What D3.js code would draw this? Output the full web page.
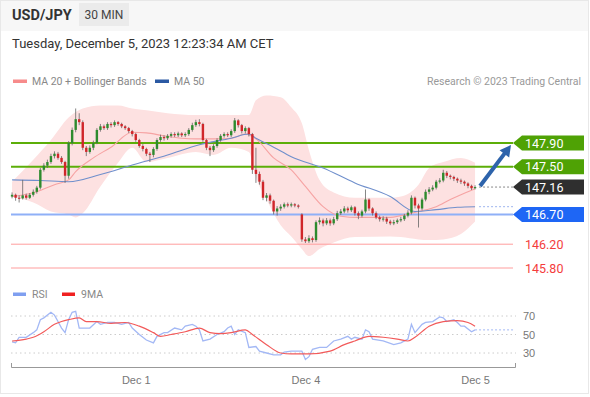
<!DOCTYPE html>
<html>
<head>
<meta charset="utf-8">
<script src="https://cdn.jsdelivr.net/npm/d3@7"></script>
<style>
  body { margin: 0; background: #fff; }
  svg { display: block; font-family: Roboto, "Liberation Sans", Arial, sans-serif; }
</style>
</head>
<body>
<svg id="chart" width="590" height="397"></svg>
<script>
// Section for Data

// 30 minute candles, index 0 = first candle on the left
var candleOpen = [
  147.00,147.03,146.98,146.97,147.02,146.98,147.03,147.08,147.15,147.45,
  147.52,147.58,147.68,147.72,147.65,147.58,147.35,147.90,148.12,148.30,
  148.25,147.82,147.75,147.82,147.90,148.12,148.18,148.15,148.22,148.20,
  148.25,148.22,148.18,148.15,148.10,148.05,147.95,147.85,147.80,147.72,
  147.70,147.80,147.95,148.00,147.98,148.02,148.05,148.03,148.06,148.03,
  148.05,148.12,148.20,148.25,148.22,147.95,147.82,147.78,147.85,147.95,
  148.02,148.05,148.03,148.10,148.28,148.20,148.10,148.15,148.05,147.45,
  147.38,147.25,146.98,147.02,146.93,146.75,146.80,146.83,146.87,146.85,
  146.87,146.85,146.70,146.28,146.25,146.30,146.27,146.57,146.60,146.55,
  146.60,146.55,146.62,146.72,146.75,146.80,146.77,146.82,146.72,146.68,
  146.75,146.95,146.80,146.72,146.65,146.62,146.63,146.58,146.55,146.57,
  146.60,146.62,146.68,146.73,146.98,146.85,146.80,146.95,147.08,147.12,
  147.15,147.25,147.27,147.40,147.35,147.33,147.30,147.27,147.25,147.22,
  147.18,147.14];
var candleHigh = [
  147.07,147.05,147.02,147.28,147.05,147.06,147.12,147.18,147.48,147.56,
  147.62,147.72,147.76,147.75,147.68,147.60,147.93,148.16,148.48,148.40,
  148.28,147.85,147.86,147.94,148.15,148.22,148.21,148.25,148.25,148.28,
  148.27,148.24,148.20,148.17,148.12,148.07,147.97,147.88,147.82,147.75,
  147.83,147.98,148.04,148.03,148.05,148.08,148.08,148.09,148.08,148.08,
  148.15,148.24,148.29,148.30,148.24,147.97,147.85,147.88,147.98,148.05,
  148.08,148.08,148.13,148.32,148.30,148.22,148.18,148.17,148.07,147.82,
  147.42,147.28,147.06,147.05,146.95,146.84,146.87,146.90,146.90,146.90,
  146.89,146.87,146.72,146.32,146.35,146.33,146.60,146.65,146.63,146.64,
  146.63,146.66,146.76,146.79,146.84,146.83,146.85,146.84,146.75,146.78,
  147.12,146.97,146.82,146.75,146.68,146.67,146.66,146.61,146.61,146.63,
  146.66,146.71,146.77,147.02,147.00,146.88,146.98,147.12,147.16,147.19,
  147.28,147.31,147.45,147.43,147.37,147.35,147.32,147.30,147.27,147.24,
  147.20,147.19];
var candleLow = [
  146.97,146.93,146.90,146.95,146.95,146.96,147.00,147.05,147.12,147.42,
  147.48,147.55,147.64,147.62,147.55,147.23,147.30,147.86,148.08,148.20,
  147.78,147.68,147.72,147.78,147.88,148.09,148.12,148.12,148.16,148.17,
  148.19,148.15,148.12,148.07,148.01,147.92,147.82,147.76,147.68,147.58,
  147.66,147.77,147.92,147.94,147.95,147.99,148.00,148.00,148.00,148.00,
  148.02,148.09,148.17,148.18,147.92,147.78,147.68,147.75,147.82,147.92,
  147.99,148.00,148.00,148.07,148.16,148.06,148.06,148.01,147.38,147.23,
  147.20,146.94,146.92,146.88,146.70,146.68,146.76,146.80,146.82,146.82,
  146.82,146.80,146.24,146.22,146.22,146.23,146.24,146.53,146.50,146.52,
  146.51,146.52,146.59,146.69,146.72,146.73,146.74,146.68,146.62,146.65,
  146.72,146.76,146.68,146.62,146.58,146.58,146.54,146.52,146.52,146.54,
  146.57,146.59,146.65,146.70,146.80,146.48,146.77,146.92,147.04,147.09,
  147.12,147.22,147.24,147.31,147.29,147.26,147.23,147.21,147.18,147.14,
  147.11,147.12];
var candleClose = [
  147.03,146.98,146.97,147.02,146.98,147.03,147.08,147.15,147.45,147.52,
  147.58,147.68,147.72,147.65,147.58,147.35,147.90,148.12,148.30,148.25,
  147.82,147.75,147.82,147.90,148.12,148.18,148.15,148.22,148.20,148.25,
  148.22,148.18,148.15,148.10,148.05,147.95,147.85,147.80,147.72,147.70,
  147.80,147.95,148.00,147.98,148.02,148.05,148.03,148.06,148.03,148.05,
  148.12,148.20,148.25,148.22,147.95,147.82,147.78,147.85,147.95,148.02,
  148.05,148.03,148.10,148.28,148.20,148.10,148.15,148.05,147.45,147.38,
  147.25,146.98,147.02,146.93,146.75,146.80,146.83,146.87,146.85,146.87,
  146.85,146.83,146.28,146.25,146.30,146.27,146.57,146.60,146.55,146.60,
  146.55,146.62,146.72,146.75,146.80,146.77,146.82,146.72,146.68,146.75,
  146.95,146.80,146.72,146.65,146.62,146.63,146.58,146.55,146.57,146.60,
  146.62,146.68,146.73,146.98,146.85,146.80,146.95,147.08,147.12,147.15,
  147.25,147.27,147.40,147.35,147.33,147.30,147.27,147.25,147.22,147.18,
  147.14,147.16];

// moving averages and bands, read at some candle indexes
var ma20Idx = [0, 7, 12, 16, 18, 23, 28, 34, 38, 43, 48, 52, 57, 62, 66, 69, 74, 79, 83, 88, 93, 98, 107, 110, 115, 120, 124, 129, 131];
var ma20Val = [147.00, 147.08, 147.20, 147.28, 147.42, 147.65, 147.83, 148.08, 148.07, 148.02, 147.98, 147.97, 147.97, 147.98, 148.05, 147.97, 147.65, 147.45, 147.17, 146.83, 146.67, 146.65, 146.65, 146.68, 146.75, 146.83, 146.95, 147.08, 147.13];
var ma50Idx = [0, 8, 16, 25, 34, 44, 53, 62, 67, 69, 74, 79, 88, 97, 107, 114, 120, 126, 131];
var ma50Val = [147.28, 147.27, 147.25, 147.37, 147.53, 147.70, 147.87, 147.98, 148.05, 147.98, 147.83, 147.67, 147.48, 147.23, 147.00, 146.75, 146.78, 146.82, 146.83];
var bandIdx = [0, 6, 11, 16, 18, 20, 25, 30, 34, 38, 44, 52, 57, 62, 67, 69, 72, 76, 79, 82, 84, 87, 91, 97, 107, 110, 115, 118, 122, 127, 131];
var bandUpper = [147.25, 147.62, 147.95, 148.33, 148.42, 148.48, 148.53, 148.53, 148.48, 148.45, 148.40, 148.37, 148.37, 148.37, 148.37, 148.62, 148.70, 148.67, 148.50, 148.23, 147.78, 147.28, 147.07, 146.98, 146.98, 147.00, 147.20, 147.48, 147.58, 147.65, 147.57];
var bandLower = [147.00, 146.90, 146.75, 146.70, 146.65, 146.72, 147.17, 147.57, 147.82, 147.58, 147.65, 147.75, 147.70, 147.82, 147.75, 147.33, 146.95, 146.52, 146.33, 146.12, 146.00, 146.12, 146.23, 146.32, 146.33, 146.32, 146.28, 146.27, 146.28, 146.37, 146.58];

// key levels
var levelValues = [147.90, 147.50, 146.70, 146.20, 145.80];
var levelKinds = ["resistance", "resistance", "pivot", "support", "support"];
var lastPrice = 147.16;

// RSI panel
var rsiIdx = [0, 1, 2, 4, 6, 7, 8, 9, 11, 12, 13, 14, 15, 16, 17, 18, 19, 22, 24, 25, 27, 29, 31, 33, 34, 36, 38, 40, 41, 43, 44, 46, 48, 49, 51, 52, 53, 54, 56, 58, 60, 61, 62, 63, 64, 66, 67, 69, 70, 72, 74, 76, 77, 79, 82, 83, 84, 85, 87, 89, 91, 93, 95, 96, 97, 99, 100, 101, 102, 105, 108, 110, 112, 113, 114, 116, 117, 119, 121, 122, 123, 125, 126, 127, 128, 130, 131];
var rsiVal = [42, 41, 47, 47, 52, 55, 66, 68, 74, 71, 64, 57, 52, 66, 74, 75, 57, 57, 64, 61, 63, 63, 61, 63, 57, 50, 44, 41, 48, 52, 52, 57, 55, 59, 61, 59, 55, 43, 45, 50, 53, 57, 59, 50, 55, 52, 36, 37, 32, 30, 28, 28, 31, 32, 32, 23, 26, 34, 36, 36, 43, 45, 48, 45, 47, 45, 55, 53, 45, 43, 39, 41, 45, 61, 52, 61, 63, 64, 69, 68, 64, 66, 63, 59, 59, 53, 55];
var rsiMaIdx = [0, 4, 6, 9, 12, 14, 16, 19, 21, 24, 28, 32, 36, 40, 42, 45, 49, 53, 56, 59, 62, 66, 68, 72, 76, 79, 84, 90, 94, 97, 101, 105, 109, 112, 114, 118, 122, 126, 129, 131];
var rsiMaVal = [43, 45, 47, 53, 61, 64, 66, 68, 64, 64, 62, 63, 59, 52, 48, 50, 53, 57, 52, 51, 52, 55, 50, 39, 30, 29, 29, 32, 39, 43, 48, 47, 45, 43, 47, 59, 64, 65, 63, 59];
var rsiTicks = [30, 50, 70];

// x axis labels
var tickIdx = [35, 83, 131];
var tickLabels = ["Dec 1", "Dec 4", "Dec 5"];

// Section for chart

var svg = d3.select("#chart");
var plotLeft = 11, plotRight = 515, tagLeft = 513;

var x = d3.scaleLinear().domain([-0.3, 142.3]).range([plotLeft, plotRight]);
var y = d3.scaleLinear().domain([145.80, 147.90]).range([268, 143]);
var yR = d3.scaleLinear().domain([30, 70]).range([353, 316]);

// frame + header
svg.append("rect").attr("x", 0.5).attr("y", 0.5).attr("width", 588).attr("height", 393)
  .attr("fill", "#fff").attr("stroke", "#e8e8e8");
svg.append("rect").attr("x", 1).attr("y", 1).attr("width", 587).attr("height", 30).attr("fill", "#f7f7f7");
svg.append("text").attr("x", 12).attr("y", 20).text("USD/JPY")
  .attr("font-size", 14.5).attr("font-weight", "bold").attr("fill", "#333");
svg.append("rect").attr("x", 79).attr("y", 3).attr("width", 50).attr("height", 23).attr("fill", "#ebebeb");
svg.append("text").attr("x", 104).attr("y", 19).attr("text-anchor", "middle").text("30 MIN")
  .attr("font-size", 12).attr("fill", "#444");
svg.append("text").attr("x", 12).attr("y", 48).text("Tuesday, December 5, 2023 12:23:34 AM CET")
  .attr("font-size", 13).attr("fill", "#333");

// legend
var legend = svg.append("g").attr("font-size", 10.5).attr("fill", "#888");
legend.append("rect").attr("x", 13).attr("y", 79.5).attr("width", 14).attr("height", 3.5).attr("fill", "#f78b8b");
legend.append("text").attr("x", 32).attr("y", 85).text("MA 20 + Bollinger Bands");
legend.append("rect").attr("x", 155).attr("y", 79.5).attr("width", 14).attr("height", 3.5).attr("fill", "#2b59a3");
legend.append("text").attr("x", 174).attr("y", 85).text("MA 50");
svg.append("text").attr("x", 581).attr("y", 85).attr("text-anchor", "end")
  .attr("font-size", 10.5).attr("fill", "#999").text("Research \u00a9 2023 Trading Central");

// bollinger band fill
var band = bandIdx.map(function (d, i) { return { i: d, hi: bandUpper[i], lo: bandLower[i] }; });
svg.append("path").datum(band)
  .attr("d", d3.area().curve(d3.curveMonotoneX)
    .x(function (d) { return x(d.i); })
    .y0(function (d) { return y(d.lo); })
    .y1(function (d) { return y(d.hi); }))
  .attr("fill", "#fde1e1");

// level lines
var levelColor = { resistance: "#5cae08", pivot: "#8fb0f7", support: "#ff9d9d" };
var tagColor = { resistance: "#4fa205", pivot: "#1e66f5" };
levelValues.forEach(function (v, i) {
  var k = levelKinds[i];
  svg.append("line").attr("x1", plotLeft).attr("x2", tagLeft)
    .attr("y1", y(v)).attr("y2", y(v))
    .attr("stroke", levelColor[k]).attr("stroke-width", k == "support" ? 1 : 2);
});

// moving averages
var lineGen = d3.line().curve(d3.curveMonotoneX)
  .x(function (d) { return x(d[0]); }).y(function (d) { return y(d[1]); });
svg.append("path").datum(ma20Idx.map(function (d, i) { return [d, ma20Val[i]]; }))
  .attr("d", lineGen).attr("fill", "none").attr("stroke", "#f6a3a3").attr("stroke-width", 1.1);
svg.append("path").datum(ma50Idx.map(function (d, i) { return [d, ma50Val[i]]; }))
  .attr("d", lineGen).attr("fill", "none").attr("stroke", "#6f8fcc").attr("stroke-width", 1.1);

// candles
var candles = candleClose.map(function (c, i) {
  return { i: i, o: candleOpen[i], h: candleHigh[i], l: candleLow[i], c: c };
});
var bodyW = 2.4;
svg.append("g").selectAll("line").data(candles).enter().append("line")
  .attr("x1", function (d) { return x(d.i); })
  .attr("x2", function (d) { return x(d.i); })
  .attr("y1", function (d) { return y(d.h); })
  .attr("y2", function (d) { return y(d.l); })
  .attr("stroke", "#666").attr("stroke-width", 0.8);
svg.append("g").selectAll("rect").data(candles).enter().append("rect")
  .attr("x", function (d) { return x(d.i) - bodyW / 2; })
  .attr("y", function (d) { return y(Math.max(d.o, d.c)); })
  .attr("width", bodyW)
  .attr("height", function (d) { return Math.max(1, Math.abs(y(d.o) - y(d.c))); })
  .attr("fill", function (d) { return d.c >= d.o ? "#2e8b2e" : "#d0262a"; });

// dotted extensions to the tags
svg.append("line").attr("x1", x(131) + 4).attr("x2", tagLeft)
  .attr("y1", y(lastPrice)).attr("y2", y(lastPrice))
  .attr("stroke", "#888").attr("stroke-dasharray", "2,2");
svg.append("line").attr("x1", x(131) + 4).attr("x2", tagLeft)
  .attr("y1", y(ma50Val[ma50Val.length - 1])).attr("y2", y(ma50Val[ma50Val.length - 1]))
  .attr("stroke", "#9db4ee").attr("stroke-dasharray", "2,2");

// price tags
function tag(v, fill) {
  var cy = y(v);
  svg.append("path")
    .attr("d", "M" + tagLeft + "," + cy + "L" + (tagLeft + 9) + "," + (cy - 7.5) + "H584V" + (cy + 7.5) + "H" + (tagLeft + 9) + "Z")
    .attr("fill", fill);
  svg.append("text").attr("x", 525).attr("y", cy + 4.5).text(v.toFixed(2))
    .attr("font-size", 12.5).attr("fill", "#fff");
}
levelValues.forEach(function (v, i) {
  var k = levelKinds[i];
  if (k == "support") {
    svg.append("text").attr("x", 525).attr("y", y(v) + 4.5).text(v.toFixed(2))
      .attr("font-size", 12.5).attr("fill", "#f43c3c");
  } else {
    tag(v, tagColor[k]);
  }
});
tag(lastPrice, "#2f2f2f");

// arrow
var ax0 = x(131) + 5, ay0 = y(lastPrice) - 1, ax1 = 511, ay1 = y(147.90) + 2;
var ang = Math.atan2(ay1 - ay0, ax1 - ax0);
svg.append("line").attr("x1", ax0).attr("y1", ay0)
  .attr("x2", ax1 - 8 * Math.cos(ang)).attr("y2", ay1 - 8 * Math.sin(ang))
  .attr("stroke", "#2d63ab").attr("stroke-width", 4);
var hx = ax1 - 11 * Math.cos(ang), hy = ay1 - 11 * Math.sin(ang);
var px = -Math.sin(ang) * 6, py = Math.cos(ang) * 6;
svg.append("path")
  .attr("d", "M" + ax1 + "," + ay1 + "L" + (hx + px) + "," + (hy + py) + "L" + (hx - px) + "," + (hy - py) + "Z")
  .attr("fill", "#2d63ab");

// RSI panel
var rsiLegend = svg.append("g").attr("font-size", 10.5).attr("fill", "#888");
rsiLegend.append("rect").attr("x", 13).attr("y", 292.5).attr("width", 13).attr("height", 3.5).attr("fill", "#7f9ff0");
rsiLegend.append("text").attr("x", 32).attr("y", 298).text("RSI");
rsiLegend.append("rect").attr("x", 62).attr("y", 292.5).attr("width", 13).attr("height", 3.5).attr("fill", "#f02020");
rsiLegend.append("text").attr("x", 81).attr("y", 298).text("9MA");

svg.append("g").selectAll("line").data(rsiTicks).enter().append("line")
  .attr("x1", plotLeft).attr("x2", plotRight + 1)
  .attr("y1", function (d) { return yR(d); }).attr("y2", function (d) { return yR(d); })
  .attr("stroke", "#ccc").attr("stroke-dasharray", "1.5,3");

var rsiAxis = svg.append("g").attr("transform", "translate(523,0)")
  .call(d3.axisRight(yR).tickValues(rsiTicks).tickSize(0).tickPadding(0));
rsiAxis.select(".domain").remove();
rsiAxis.selectAll("text").attr("font-size", 11).attr("fill", "#777").attr("font-family", null);

var rsiLine = d3.line().curve(d3.curveLinear)
  .x(function (d) { return x(d[0]); }).y(function (d) { return yR(d[1]); });
svg.append("path").datum(rsiIdx.map(function (d, i) { return [d, rsiVal[i]]; }))
  .attr("d", rsiLine).attr("fill", "none").attr("stroke", "#a3b8f5").attr("stroke-width", 1.3);
svg.append("line").attr("x1", x(131)).attr("x2", plotRight)
  .attr("y1", yR(rsiVal[rsiVal.length - 1])).attr("y2", yR(rsiVal[rsiVal.length - 1]))
  .attr("stroke", "#a3b8f5").attr("stroke-dasharray", "2,2");
svg.append("path").datum(rsiMaIdx.map(function (d, i) { return [d, rsiMaVal[i]]; }))
  .attr("d", lineGen.y(function (d) { return yR(d[1]); })).attr("fill", "none")
  .attr("stroke", "#f25a5a").attr("stroke-width", 1.2);

// x axis
var xAxis = svg.append("g").attr("transform", "translate(0,367)")
  .call(d3.axisBottom(x).tickValues(tickIdx)
    .tickFormat(function (d, i) { return tickLabels[i]; })
    .tickSizeInner(0).tickSizeOuter(-4).tickPadding(9));
xAxis.select(".domain").attr("stroke", "#999");
xAxis.selectAll("text").attr("font-size", 11).attr("fill", "#777").attr("font-family", null);
</script>
</body>
</html>
